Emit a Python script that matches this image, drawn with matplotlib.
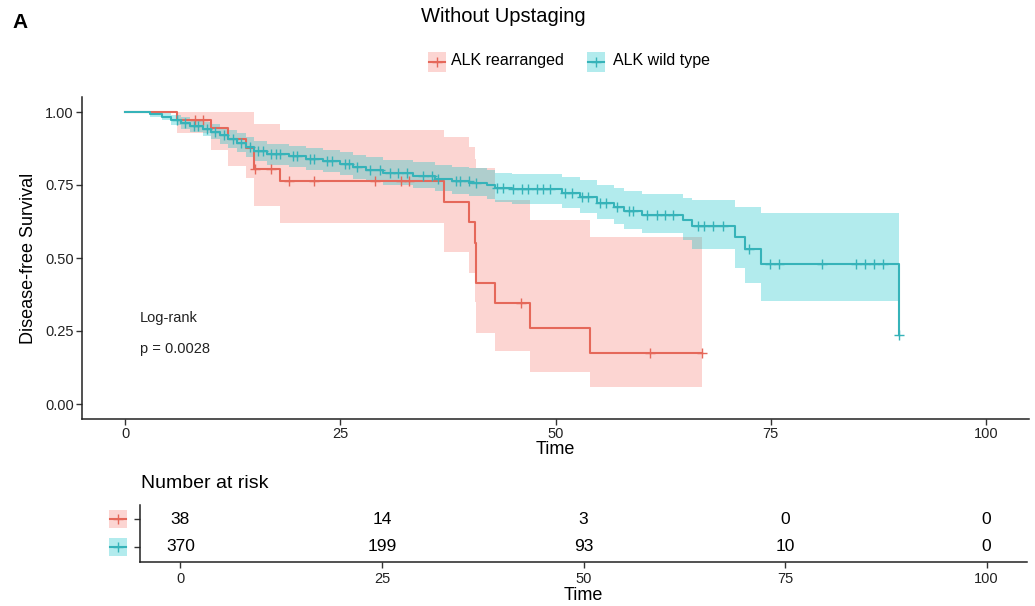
import numpy as np
import matplotlib
matplotlib.use("Agg")
import matplotlib.pyplot as plt
from matplotlib.patches import Rectangle
from matplotlib.lines import Line2D
import matplotlib.transforms as mtransforms

plt.rcParams['font.family'] = ['Liberation Sans', 'DejaVu Sans']

# ---------------- data ----------------
groups = ["ALK rearranged", "ALK wild type"]

red_time  = [0, 6.0, 10.0, 12.0, 14.0, 15.0, 18.0, 37.0, 40.0, 40.6, 40.8, 43.0, 47.0, 54.0]
red_surv  = [1.0, 0.974, 0.944, 0.908, 0.876, 0.804, 0.762, 0.693, 0.624, 0.55, 0.415, 0.347, 0.261, 0.174]
red_upper = [1.0, 1.0, 1.0, 1.0, 1.0, 0.96, 0.938, 0.916, 0.881, 0.84, 0.807, 0.70, 0.63, 0.573]
red_lower = [1.0, 0.927, 0.87, 0.815, 0.773, 0.678, 0.621, 0.522, 0.448, 0.35, 0.242, 0.18, 0.11, 0.059]
red_end = 67.0
red_censor = [8.1, 9.1, 15.1, 17.0, 19.0, 22.0, 29.0, 32.0, 33.0, 46.0, 61.0, 67.0]

blue_time  = [0, 2.9, 4.3, 5.3, 6.5, 7.5, 9.0, 10.0, 11.0, 12.0, 13.0, 14.0, 15.0, 16.5, 19.0, 21.0,
              23.0, 25.0, 26.5, 28.0, 30.0, 33.5, 36.0, 38.0, 40.0, 42.0, 43.0, 45.0, 50.7, 52.8,
              54.8, 56.8, 57.9, 60.0, 64.8, 65.8, 70.8, 72.0, 73.9, 89.9]
blue_surv  = [1.0, 0.992, 0.984, 0.973, 0.962, 0.952, 0.943, 0.932, 0.920, 0.908, 0.895, 0.880, 0.865, 0.855, 0.848, 0.840,
              0.832, 0.822, 0.812, 0.802, 0.792, 0.782, 0.772, 0.765, 0.758, 0.750, 0.740, 0.735, 0.722, 0.708,
              0.690, 0.676, 0.662, 0.647, 0.630, 0.609, 0.571, 0.530, 0.479, 0.236]
blue_lower = [1.0, 0.983, 0.971, 0.957, 0.943, 0.930, 0.919, 0.906, 0.892, 0.878, 0.864, 0.847, 0.831, 0.820, 0.812, 0.803,
              0.794, 0.783, 0.772, 0.761, 0.750, 0.739, 0.728, 0.720, 0.712, 0.703, 0.692, 0.686, 0.670, 0.654,
              0.633, 0.617, 0.600, 0.584, 0.562, 0.530, 0.466, 0.413, 0.354]
blue_upper = [1.0, 1.0, 0.997, 0.990, 0.982, 0.974, 0.967, 0.958, 0.948, 0.938, 0.927, 0.914, 0.900, 0.891, 0.885, 0.878,
              0.871, 0.862, 0.853, 0.845, 0.836, 0.828, 0.819, 0.813, 0.807, 0.800, 0.791, 0.787, 0.777, 0.766,
              0.751, 0.740, 0.729, 0.718, 0.704, 0.697, 0.676, 0.676, 0.655]
blue_censor = [6.0, 7.0, 8.0, 8.5, 9.5, 10.5, 11.5, 12.5, 13.5, 14.5, 15.5, 16.0, 17.0, 17.5, 18.0, 19.5, 20.0,
               21.5, 22.0, 23.5, 24.0, 25.5, 26.0, 27.0, 28.5, 29.6, 30.8, 31.7, 32.7, 34.6, 35.7, 36.4,
               38.5, 38.9, 39.9, 40.8, 43.2, 43.9, 45.1, 46.1, 46.8, 47.8, 48.6, 49.4, 51.1, 51.9, 53.1,
               53.8, 55.2, 55.9, 57.1, 58.5, 59.0, 60.6, 61.8, 62.7, 63.7, 66.5, 67.2, 68.3, 69.5,
               72.5, 74.9, 76.0, 80.9, 84.9, 86.0, 87.0, 88.0, 89.95]

risk_times = [0, 25, 50, 75, 100]
risk_red   = [38, 14, 3, 0, 0]
risk_blue  = [370, 199, 93, 10, 0]

pvalue_text = ["Log-rank", "p = 0.0028"]

# ---------------- style ----------------
RED_LINE = '#E5685A'
BLUE_LINE = '#36B3B9'
RED_FILL = '#F8766D'
BLUE_FILL = '#00BFC4'
FILL_ALPHA = 0.30
LW = 1.5

W, H = 1035, 606
fig = plt.figure(figsize=(W / 100, H / 100), dpi=100)


def fx(px):
    return px / W


def fy(py):
    return 1 - py / H


ax = fig.add_axes([fx(82), fy(418.6), fx(1029) - fx(82), fy(97.4) - fy(418.6)])


def surv_at(times, surv, t):
    i = np.searchsorted(np.asarray(times), t, side='right') - 1
    return np.asarray(surv)[i]


# red group
rt = list(red_time) + [red_end]
ax.fill_between(rt, list(red_lower) + [red_lower[-1]], list(red_upper) + [red_upper[-1]],
                step='post', color=RED_FILL, alpha=FILL_ALPHA, linewidth=0)
# blue group
bt_band = list(blue_time[:-1]) + [blue_time[-1]]
ax.fill_between(bt_band, list(blue_lower) + [blue_lower[-1]], list(blue_upper) + [blue_upper[-1]],
                step='post', color=BLUE_FILL, alpha=FILL_ALPHA, linewidth=0)

ax.step(rt, list(red_surv) + [red_surv[-1]], where='post', color=RED_LINE, lw=LW, zorder=3)
ax.step(blue_time, blue_surv, where='post', color=BLUE_LINE, lw=LW, zorder=4)

ax.plot(red_censor, [surv_at(red_time, red_surv, c) for c in red_censor], '+', color=RED_LINE,
        ms=7, mew=1.0, zorder=3)
ax.plot(blue_censor, [surv_at(blue_time, blue_surv, c) for c in blue_censor], '+', color=BLUE_LINE,
        ms=7, mew=1.0, zorder=4)

ax.set_xlim(-5, 105)
ax.set_ylim(-0.05, 1.05)
ax.set_xticks([0, 25, 50, 75, 100])
ax.set_yticks([0, 0.25, 0.5, 0.75, 1.0])
ax.set_yticklabels(['0.00', '0.25', '0.50', '0.75', '1.00'])
for s in ['top', 'right']:
    ax.spines[s].set_visible(False)
for s in ['left', 'bottom']:
    ax.spines[s].set_color('#222222')
    ax.spines[s].set_linewidth(1.1)
ax.tick_params(axis='both', length=4, width=1, color='#333333', labelsize=10.5, labelcolor='#222222', pad=2)
ax.set_xlabel('Time', fontsize=13, labelpad=0)
ax.set_ylabel('Disease-free Survival', fontsize=13, labelpad=6)

ax.text(1.7, 0.295, pvalue_text[0], fontsize=10.5, va='center', ha='left', color='#222222')
ax.text(1.7, 0.19, pvalue_text[1], fontsize=10.5, va='center', ha='left', color='#222222')

# title, panel letter
fig.text(fx(503), fy(17), 'Without Upstaging', fontsize=14.5, ha='center', va='center')
fig.text(fx(12), fy(22), 'A', fontsize=15, fontweight='bold', ha='left', va='center')


# legend (drawn manually)
def key(x0, yc, fill, line):
    fig.patches.append(Rectangle((fx(x0), fy(yc + 10)), fx(18), fy(0) - fy(20),
                                 transform=fig.transFigure, color=fill, alpha=FILL_ALPHA, lw=0))
    fig.lines.append(Line2D([fx(x0 + 1), fx(x0 + 17)], [fy(yc), fy(yc)], transform=fig.transFigure,
                            color=line, lw=LW))
    fig.lines.append(Line2D([fx(x0 + 9)], [fy(yc)], transform=fig.transFigure, color=line,
                            marker='+', ms=7, mew=1.0, ls='none'))


key(428, 62, RED_FILL, RED_LINE)
fig.text(fx(451), fy(61), groups[0], fontsize=11.5, ha='left', va='center')
key(587, 62, BLUE_FILL, BLUE_LINE)
fig.text(fx(613), fy(61), groups[1], fontsize=11.5, ha='left', va='center')

# ---------------- risk table ----------------
axr = fig.add_axes([fx(140), fy(562), fx(1027) - fx(140), fy(505) - fy(562)])
axr.set_xlim(-5, 105)
axr.set_ylim(0.45, 2.52)
for t, n in zip(risk_times, risk_red):
    axr.text(t, 2, str(n), ha='center', va='center', fontsize=12.5)
for t, n in zip(risk_times, risk_blue):
    axr.text(t, 1, str(n), ha='center', va='center', fontsize=12.5)
axr.set_xticks([0, 25, 50, 75, 100])
axr.set_yticks([2, 1])
axr.set_yticklabels(['', ''])
for s in ['top', 'right']:
    axr.spines[s].set_visible(False)
for s in ['left', 'bottom']:
    axr.spines[s].set_color('#222222')
    axr.spines[s].set_linewidth(1.1)
axr.tick_params(axis='both', length=4, width=1, color='#333333', labelsize=10.5, labelcolor='#222222', pad=3)
axr.set_xlabel('Time', fontsize=13, labelpad=1)
fig.text(fx(141), fy(484), 'Number at risk', fontsize=14, ha='left', va='center')

# colored keys as y labels
trans = mtransforms.blended_transform_factory(fig.transFigure, axr.transData)
for yv, fill, line in [(2, RED_FILL, RED_LINE), (1, BLUE_FILL, BLUE_LINE)]:
    axr.add_patch(Rectangle((fx(109), yv - 0.33), fx(18), 0.66, transform=trans, color=fill,
                            alpha=FILL_ALPHA, lw=0, clip_on=False))
    axr.add_line(Line2D([fx(110), fx(126)], [yv, yv], transform=trans, color=line, lw=LW, clip_on=False))
    axr.add_line(Line2D([fx(118)], [yv], transform=trans, color=line, marker='+', ms=7, mew=1.0,
                        ls='none', clip_on=False))

fig.savefig('out.png', dpi=100)
